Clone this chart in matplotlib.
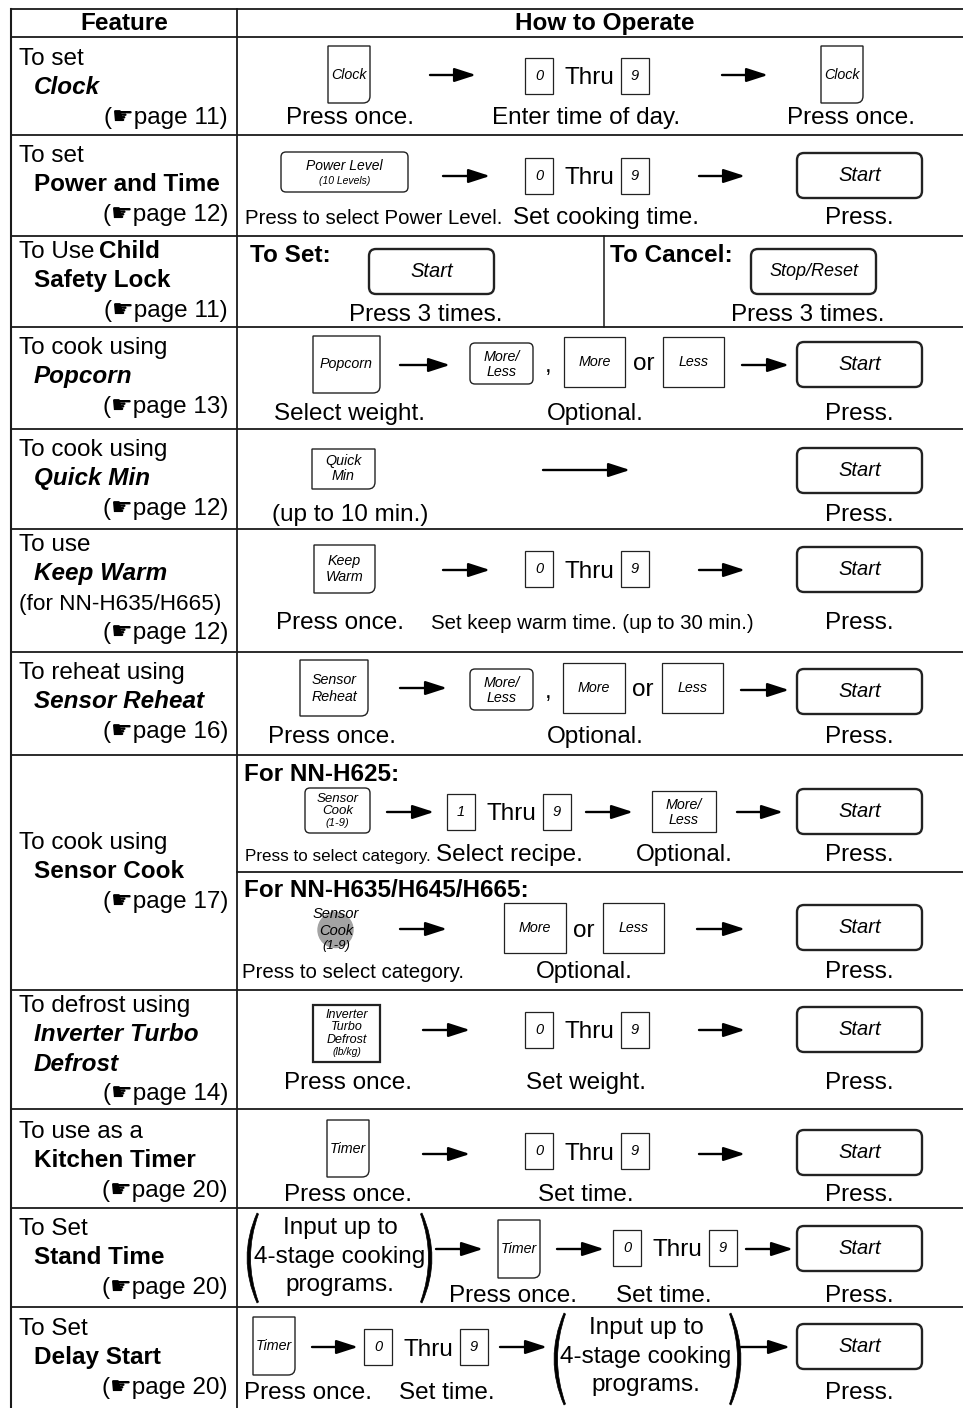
import matplotlib
matplotlib.use("Agg")
import matplotlib.pyplot as plt
from matplotlib.patches import FancyBboxPatch, Rectangle, PathPatch, FancyArrowPatch, Circle
from matplotlib.path import Path
from matplotlib import font_manager

# ---- table content ----
headers = ["Feature", "How to Operate"]

feature_lines = [
    ["To set", "Clock"],
    ["To set", "Power and Time"],
    ["To Use Child", "Safety Lock"],
    ["To cook using", "Popcorn"],
    ["To cook using", "Quick Min"],
    ["To use", "Keep Warm", "(for NN-H635/H665)"],
    ["To reheat using", "Sensor Reheat"],
    ["To cook using", "Sensor Cook"],
    ["To defrost using", "Inverter Turbo", "Defrost"],
    ["To use as a", "Kitchen Timer"],
    ["To Set", "Stand Time"],
    ["To Set", "Delay Start"],
]
# n = normal, b = bold, bi = bold italic
feature_styles = [
    ["n", "bi"], ["n", "b"], ["n", "b"], ["n", "bi"], ["n", "bi"], ["n", "bi", "n"],
    ["n", "bi"], ["n", "b"], ["n", "bi", "bi"], ["n", "b"], ["n", "b"], ["n", "b"],
]
page_refs = [11, 12, 11, 13, 12, 12, 16, 17, 14, 20, 20, 20]

captions = [
    ["Press once.", "Enter time of day.", "Press once."],
    ["Press to select Power Level.", "Set cooking time.", "Press."],
    ["Press 3 times.", "Press 3 times."],
    ["Select weight.", "Optional.", "Press."],
    ["(up to 10 min.)", "Press."],
    ["Press once.", "Set keep warm time. (up to 30 min.)", "Press."],
    ["Press once.", "Optional.", "Press."],
    ["Press to select category.", "Select recipe.", "Optional.", "Press."],
    ["Press to select category.", "Optional.", "Press."],
    ["Press once.", "Set weight.", "Press."],
    ["Press once.", "Set time.", "Press."],
    ["Press once.", "Set time.", "Press."],
    ["Press once.", "Set time.", "Press."],
]
sub_heads = ["To Set:", "To Cancel:", "For NN-H625:", "For NN-H635/H645/H665:"]
program_text = ["Input up to", "4-stage cooking", "programs."]

# ---- layout ----
row_edges = [9, 37, 135, 236, 327, 429, 529, 652, 755, 990, 1109, 1208, 1307, 1408]
feature_base = [65, 162, 258, 354, 456, 551, 679, 849, 1012, 1138, 1235, 1335]
LINE = 29.3
FS = 17.5
KS = 10.3
SS = 14.5

names = {f.name for f in font_manager.fontManager.ttflist}
NARROW = 'Liberation Sans Narrow' if 'Liberation Sans Narrow' in names else None
plt.rcParams['font.family'] = ['Liberation Sans', 'DejaVu Sans']

fig = plt.figure(figsize=(9.63, 14.08), dpi=100)
ax = fig.add_axes([0, 0, 1, 1])
ax.set_xlim(0, 963)
ax.set_ylim(1408, 0)
ax.axis('off')


def txt(x, y, s, size=FS, ha='center', weight='normal', style='normal', va='baseline', narrow=False):
    fam = ['Liberation Sans', 'DejaVu Sans']
    if narrow:
        if NARROW:
            fam = [NARROW]
        else:
            size = size * 0.84
    ax.text(x, y, s, fontsize=size, ha=ha, va=va, fontweight=weight,
            fontstyle=style, family=fam, color='black')


def labels(xc, ys, lines, sizes):
    for y, s, sz in zip(ys, lines, sizes):
        txt(xc, y, s, size=sz, style='italic', va='center')


def corner_key(x0, y0, x1, y1, lines, ys, size=KS, r=7):
    verts = [(x0, y0), (x1, y0), (x1, y1 - r), (x1, y1), (x1 - r, y1), (x0, y1), (x0, y0)]
    codes = [Path.MOVETO, Path.LINETO, Path.LINETO, Path.CURVE3, Path.CURVE3,
             Path.LINETO, Path.CLOSEPOLY]
    ax.add_patch(PathPatch(Path(verts, codes), fc='white', ec='#222', lw=1.0))
    labels((x0 + x1) / 2, ys, lines, [size] * len(lines))


def round_key(x0, y0, x1, y1, lines, ys, sizes, r=6, lw=1.0):
    ax.add_patch(FancyBboxPatch((x0, y0), x1 - x0, y1 - y0,
                                boxstyle=f"round,pad=0,rounding_size={r}",
                                fc='white', ec='#222', lw=lw))
    labels((x0 + x1) / 2, ys, lines, sizes)


def rect_key(x0, y0, x1, y1, lines, ys, sizes, lw=0.9):
    ax.add_patch(Rectangle((x0, y0), x1 - x0, y1 - y0, fc='white', ec='#222', lw=lw))
    labels((x0 + x1) / 2, ys, lines, sizes)


def start_key(x0, y0, label="Start", size=SS):
    round_key(x0, y0, x0 + 125, y0 + 45, [label], [y0 + 22.5], [size], r=7, lw=1.7)


def thru(x0, yc, d1="0", d2="9"):
    rect_key(x0, yc - 18, x0 + 28, yc + 18, [d1], [yc], [10.5])
    txt(x0 + 64, yc + 8.5, "Thru")
    rect_key(x0 + 96, yc - 18, x0 + 124, yc + 18, [d2], [yc], [10.5])


def arrow(x0, x1, y):
    ax.add_patch(FancyArrowPatch((x0, y), (x1, y),
                                 arrowstyle='-|>,head_length=0.65,head_width=0.21',
                                 mutation_scale=20, lw=1.7, color='black',
                                 shrinkA=0, shrinkB=0))


def paren(xe, xm, ytop, ybot, d):
    ym = (ytop + ybot) / 2
    c_out = 2 * xm - xe
    xi = xe + d * 1.5
    c_in = 2 * (xm + d * 3.5) - xi
    verts = [(xe, ytop), (c_out, ym), (xe, ybot), (xi, ybot - 1), (c_in, ym), (xi, ytop + 1), (xe, ytop)]
    codes = [Path.MOVETO, Path.CURVE3, Path.CURVE3, Path.LINETO, Path.CURVE3, Path.CURVE3,
             Path.CLOSEPOLY]
    ax.add_patch(PathPatch(Path(verts, codes), fc='black', ec='black', lw=0.5))


def programs(xc, y0):
    for k, s in enumerate(program_text):
        txt(xc, y0 + k * 28.5, s)


# ---- grid ----
for y in row_edges[:-1]:
    ax.plot([11, 963], [y, y], color='#1a1a1a', lw=1.3)
ax.plot([11, 11], [9, 1408], color='#1a1a1a', lw=1.5)
ax.plot([237, 237], [9, 1408], color='#1a1a1a', lw=1.3)
ax.plot([604, 604], [236, 327], color='#1a1a1a', lw=1.1)
ax.plot([237, 963], [872, 872], color='#1a1a1a', lw=1.3)

# ---- headers ----
txt(124, 30, headers[0], weight='bold')
txt(605, 30, headers[1], weight='bold')

# ---- feature column ----
for i, lines in enumerate(feature_lines):
    base = feature_base[i]
    for j, s in enumerate(lines):
        st = feature_styles[i][j]
        x = 19 if (j == 0 or s.startswith('(')) else 34
        w = 'bold' if 'b' in st else 'normal'
        f = 'italic' if 'i' in st else 'normal'
        if s == "To Use Child":
            txt(19, base, "To Use", ha='left')
            txt(99, base, "Child", ha='left', weight='bold')
        elif s.startswith('('):
            txt(x, base + j * LINE, s, ha='left', size=16.2)
        else:
            txt(x, base + j * LINE, s, ha='left', weight=w, style=f)
    txt(228, base + len(lines) * LINE, "(\u261bpage %d)" % page_refs[i], ha='right')

# ---- how to operate ----
# Clock
c = captions[0]
corner_key(328, 46, 370, 103, ["Clock"], [75])
arrow(430, 476, 75)
thru(525, 75.5)
arrow(722, 768, 75)
corner_key(821, 46, 863, 103, ["Clock"], [75])
txt(350, 124, c[0]); txt(586, 124, c[1]); txt(851, 124, c[2])

# Power and Time
c = captions[1]
round_key(281, 152, 408, 192, ["Power Level", "(10 Levels)"], [166, 181], [10, 7.5], r=5)
arrow(443, 490, 176)
thru(525, 176)
arrow(699, 745, 176)
start_key(797, 153)
txt(245, 224, c[0], ha='left', narrow=True); txt(606, 224, c[1]); txt(859, 224, c[2])

# Child Safety Lock
c = captions[2]
txt(250, 262, sub_heads[0], ha='left', weight='bold')
start_key(369, 249)
txt(426, 321, c[0])
txt(610, 262, sub_heads[1], ha='left', weight='bold')
start_key(751, 249, label="Stop/Reset", size=13)
txt(808, 321, c[1])

# Popcorn
c = captions[3]
corner_key(313, 336, 380, 393, ["Popcorn"], [364])
arrow(400, 450, 365)
round_key(470, 343, 533, 384, ["More/", "Less"], [357, 372], [KS, KS], r=5)
txt(548, 372, ",")
rect_key(564, 337, 625, 387, ["More"], [362], [KS])
txt(644, 370, "or")
rect_key(663, 337, 724, 387, ["Less"], [362], [KS])
arrow(742, 789, 365)
start_key(797, 342)
txt(350, 420, c[0]); txt(595, 420, c[1]); txt(859, 420, c[2])

# Quick Min
c = captions[4]
corner_key(312, 449, 375, 489, ["Quick", "Min"], [461, 476])
arrow(543, 630, 470)
start_key(797, 448)
txt(350, 521, c[0]); txt(859, 521, c[1])

# Keep Warm
c = captions[5]
corner_key(314, 545, 375, 593, ["Keep", "Warm"], [561, 577])
arrow(443, 490, 570)
thru(525, 569)
arrow(699, 745, 570)
start_key(797, 547)
txt(340, 629, c[0]); txt(431, 629, c[1], ha='left', narrow=True); txt(859, 629, c[2])

# Sensor Reheat
c = captions[6]
corner_key(300, 660, 368, 716, ["Sensor", "Reheat"], [680, 697])
arrow(400, 447, 688)
round_key(470, 669, 533, 710, ["More/", "Less"], [683, 698], [KS, KS], r=5)
txt(548, 698, ",")
rect_key(563, 663, 625, 713, ["More"], [688], [KS])
txt(643, 696, "or")
rect_key(662, 663, 723, 713, ["Less"], [688], [KS])
arrow(741, 789, 690)
start_key(797, 669)
txt(332, 743, c[0]); txt(595, 743, c[1]); txt(859, 743, c[2])

# Sensor Cook, NN-H625
c = captions[7]
txt(244, 781, sub_heads[2], ha='left', weight='bold')
round_key(305, 788, 370, 833, ["Sensor", "Cook", "(1-9)"], [799, 811, 823], [9.5, 9.5, 8], r=5)
arrow(387, 434, 812)
thru(447, 812, d1="1")
arrow(586, 633, 812)
rect_key(652, 791, 716, 832, ["More/", "Less"], [805, 820], [KS, KS])
arrow(737, 783, 812)
start_key(797, 789)
txt(245, 861, c[0], ha='left', narrow=True, size=14.6)
txt(509, 861, c[1]); txt(684, 861, c[2]); txt(859, 861, c[3])

# Sensor Cook, NN-H635/H645/H665
c = captions[8]
txt(244, 897, sub_heads[3], ha='left', weight='bold')
ax.add_patch(Circle((335.5, 930), 17.5, color='#a3a3a3', zorder=1))
labels(336, [914, 931, 946], ["Sensor", "Cook", "(1-9)"], [10.5, 10.5, 9.5])
arrow(400, 447, 929)
rect_key(504, 903, 566, 953, ["More"], [928], [KS])
txt(584, 937, "or")
rect_key(603, 903, 664, 953, ["Less"], [928], [KS])
arrow(697, 745, 929)
start_key(797, 905)
txt(242, 978, c[0], ha='left', narrow=True); txt(584, 978, c[1]); txt(859, 978, c[2])

# Inverter Turbo Defrost
c = captions[9]
rect_key(313, 1005, 380, 1062, ["Inverter", "Turbo", "Defrost", "(lb/kg)"],
         [1015, 1027, 1040, 1052], [9, 9, 9, 7.5], lw=1.6)
arrow(423, 470, 1030)
thru(525, 1030)
arrow(699, 745, 1030)
start_key(797, 1007)
txt(348, 1089, c[0]); txt(586, 1089, c[1]); txt(859, 1089, c[2])

# Kitchen Timer
c = captions[10]
corner_key(327, 1120, 369, 1177, ["Timer"], [1149])
arrow(423, 470, 1154)
thru(525, 1151)
arrow(699, 745, 1154)
start_key(797, 1130)
txt(348, 1201, c[0]); txt(586, 1201, c[1]); txt(859, 1201, c[2])

# Stand Time
c = captions[11]
paren(257, 247, 1213, 1303, 1)
paren(422, 432, 1213, 1303, -1)
programs(340, 1234)
arrow(436, 483, 1249)
corner_key(498, 1220, 540, 1278, ["Timer"], [1249])
arrow(557, 604, 1249)
thru(613, 1248)
arrow(746, 793, 1249)
start_key(797, 1226)
txt(513, 1302, c[0]); txt(664, 1302, c[1]); txt(859, 1302, c[2])

# Delay Start
c = captions[12]
corner_key(253, 1317, 295, 1375, ["Timer"], [1346])
arrow(312, 358, 1347)
thru(364, 1347)
arrow(500, 547, 1347)
paren(564, 554, 1313, 1405, 1)
paren(731, 741, 1313, 1405, -1)
programs(646, 1334)
arrow(741, 790, 1347)
start_key(797, 1324)
txt(308, 1399, c[0]); txt(447, 1399, c[1]); txt(859, 1399, c[2])

fig.savefig("out.png", dpi=100)
